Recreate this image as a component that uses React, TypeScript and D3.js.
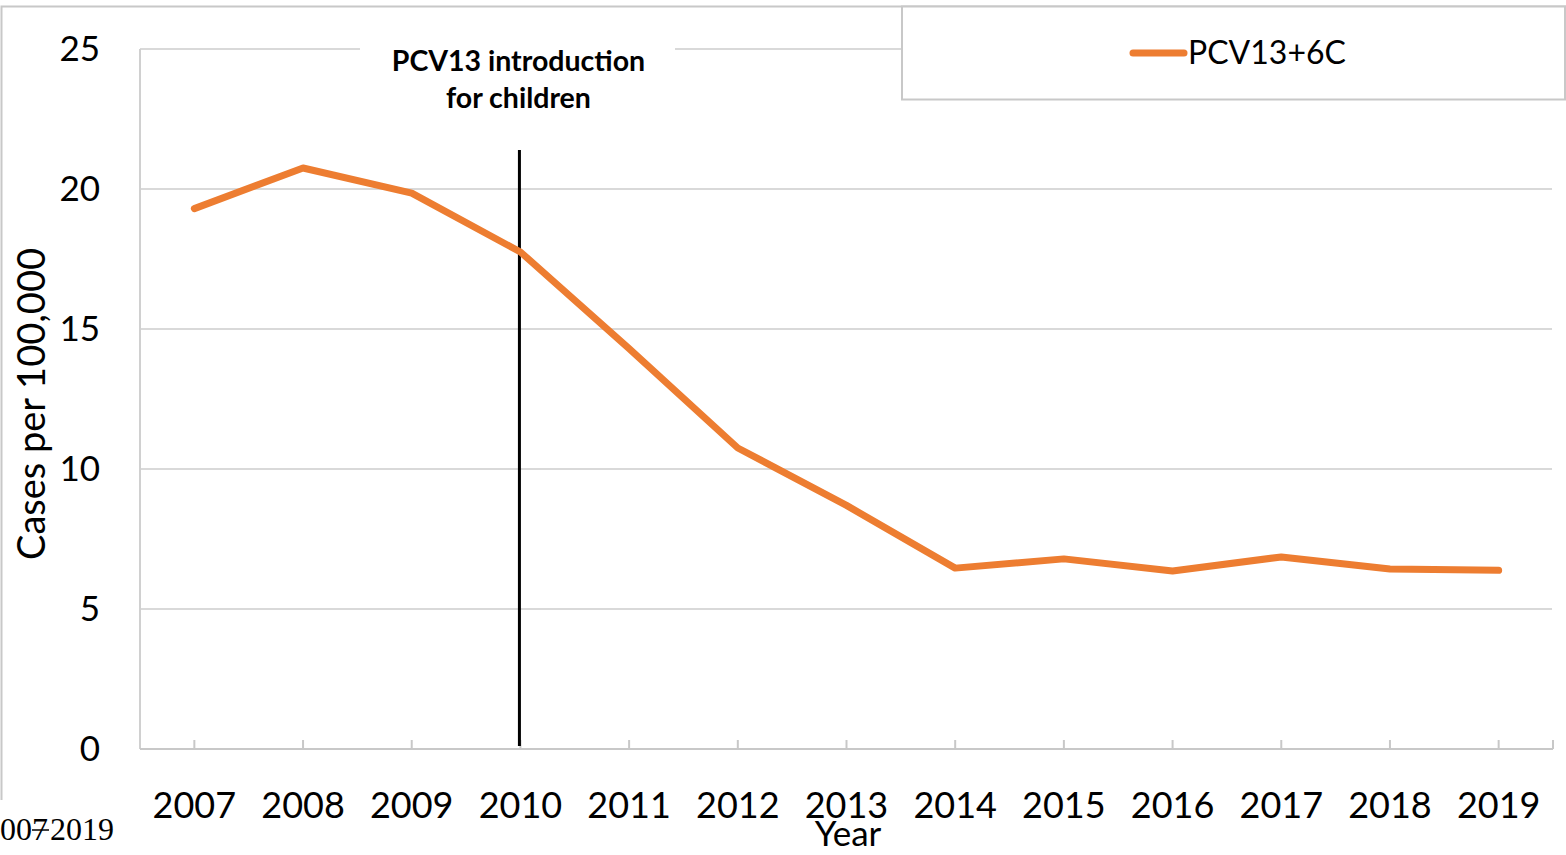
import { useEffect, useRef } from "react";
import * as d3 from "d3";

const years = ["2007", "2008", "2009", "2010", "2011", "2012", "2013", "2014", "2015", "2016", "2017", "2018", "2019"];
const pcv13Values = [19.3, 20.75, 19.85, 17.75, 14.3, 10.75, 8.7, 6.46, 6.79, 6.36, 6.86, 6.43, 6.38];
const yTicks = [0, 5, 10, 15, 20, 25];
const seriesName = "PCV13+6C";
const markerYear = "2010";

const W = 1566,
  H = 855;
const FONT = "Lato, 'Open Sans', sans-serif";
const ORANGE = "#ED7D31";

const App = () => {
  const ref = useRef<SVGSVGElement>(null);

  useEffect(() => {
    const svg = d3.select(ref.current);
    svg.selectAll("*").remove();

    const left = 140,
      right = 1553,
      top = 49,
      bottom = 749;

    const x = d3.scaleBand<string>().domain(years).range([left, right]);
    const cx = (d: string) => (x(d) as number) + x.bandwidth() / 2;
    const y = d3.scaleLinear().domain([0, 25]).range([bottom, top]);

    // outer frame (partial, as in the cropped source)
    svg
      .append("path")
      .attr("d", `M1.5,800 V6.5 H${W}`)
      .attr("fill", "none")
      .attr("stroke", "#c8c8c8")
      .attr("stroke-width", 2);

    // gridlines
    svg
      .append("g")
      .selectAll("line")
      .data(yTicks.filter((t) => t > 0))
      .enter()
      .append("line")
      .attr("x1", left)
      .attr("x2", 1552)
      .attr("y1", (d) => y(d))
      .attr("y2", (d) => y(d))
      .attr("stroke", "#d9d9d9")
      .attr("stroke-width", 2);

    // axes lines
    svg
      .append("line")
      .attr("x1", left)
      .attr("x2", left)
      .attr("y1", top)
      .attr("y2", bottom)
      .attr("stroke", "#d0d0d0")
      .attr("stroke-width", 2);
    svg
      .append("line")
      .attr("x1", left)
      .attr("x2", right)
      .attr("y1", bottom)
      .attr("y2", bottom)
      .attr("stroke", "#c8c8c8")
      .attr("stroke-width", 2);

    // x ticks
    const tickXs = [...years.map(cx), right];
    svg
      .append("g")
      .selectAll("line")
      .data(tickXs)
      .enter()
      .append("line")
      .attr("x1", (d) => d)
      .attr("x2", (d) => d)
      .attr("y1", bottom - 9)
      .attr("y2", bottom)
      .attr("stroke", "#c8c8c8")
      .attr("stroke-width", 2);

    // y tick labels
    svg
      .append("g")
      .selectAll("text")
      .data(yTicks)
      .enter()
      .append("text")
      .attr("x", 100)
      .attr("y", (d) => y(d) + 12)
      .attr("text-anchor", "end")
      .style("font-family", FONT)
      .style("font-size", "35px")
      .attr("fill", "#000")
      .text((d) => d);

    // x tick labels
    svg
      .append("g")
      .selectAll("text")
      .data(years)
      .enter()
      .append("text")
      .attr("x", (d) => cx(d))
      .attr("y", 818)
      .attr("text-anchor", "middle")
      .style("font-family", FONT)
      .style("font-size", "36px")
      .attr("fill", "#000")
      .text((d) => d);

    // axis titles
    svg
      .append("text")
      .attr("transform", "translate(45,404) rotate(-90)")
      .attr("text-anchor", "middle")
      .style("font-family", FONT)
      .style("font-size", "38px")
      .text("Cases per 100,000");
    svg
      .append("text")
      .attr("x", 848)
      .attr("y", 846)
      .attr("text-anchor", "middle")
      .style("font-family", FONT)
      .style("font-size", "35px")
      .text("Year");

    // stray caption at bottom-left (cut off at the page edge)
    svg
      .append("text")
      .attr("x", 48)
      .attr("y", 840)
      .attr("text-anchor", "end")
      .style("font-family", "'Liberation Serif', serif")
      .style("font-size", "32px")
      .text("2007");
    svg
      .append("text")
      .attr("x", 50)
      .attr("y", 840)
      .style("font-family", "'Liberation Serif', serif")
      .style("font-size", "32px")
      .text("2019");
    svg
      .append("line")
      .attr("x1", 32)
      .attr("x2", 49)
      .attr("y1", 830)
      .attr("y2", 830)
      .attr("stroke", "#000")
      .attr("stroke-width", 1.5);

    // annotation
    svg
      .append("rect")
      .attr("x", 360)
      .attr("y", 38)
      .attr("width", 315)
      .attr("height", 80)
      .attr("fill", "#fff");
    const ann = svg
      .append("text")
      .attr("text-anchor", "middle")
      .style("font-family", FONT)
      .style("font-size", "28.5px")
      .style("font-weight", "bold");
    ann.append("tspan").attr("x", cx(markerYear) - 2).attr("y", 71).text("PCV13 introduction");
    ann.append("tspan").attr("x", cx(markerYear) - 2).attr("y", 108).text("for children");
    svg
      .append("line")
      .attr("x1", cx(markerYear) - 1)
      .attr("x2", cx(markerYear) - 1)
      .attr("y1", 150)
      .attr("y2", 746)
      .attr("stroke", "#000")
      .attr("stroke-width", 3);

    // series line
    const line = d3
      .line<number>()
      .x((_, i) => cx(years[i]))
      .y((d) => y(d));
    svg
      .append("path")
      .attr("d", line(pcv13Values) as string)
      .attr("fill", "none")
      .attr("stroke", ORANGE)
      .attr("stroke-width", 7)
      .attr("stroke-linecap", "round")
      .attr("stroke-linejoin", "round");

    // legend box
    svg
      .append("rect")
      .attr("x", 902)
      .attr("y", 6.5)
      .attr("width", 663)
      .attr("height", 93)
      .attr("fill", "#fff")
      .attr("stroke", "#c8c8c8")
      .attr("stroke-width", 2);
    svg
      .append("line")
      .attr("x1", 1133)
      .attr("x2", 1184)
      .attr("y1", 53)
      .attr("y2", 53)
      .attr("stroke", ORANGE)
      .attr("stroke-width", 7)
      .attr("stroke-linecap", "round");
    svg
      .append("text")
      .attr("x", 1188)
      .attr("y", 64)
      .style("font-family", FONT)
      .style("font-size", "32px")
      .text(seriesName);
  }, []);

  return (
    <svg
      ref={ref}
      width={W}
      height={H}
      style={{ position: "absolute", left: 0, top: 0, background: "#fff" }}
    />
  );
};

export default App;
